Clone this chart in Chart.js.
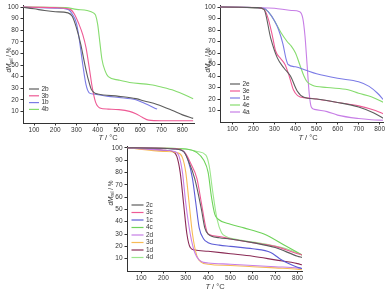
<!DOCTYPE html>
<html>
<head>
<meta charset="utf-8">
<script src="https://cdn.jsdelivr.net/npm/chart.js@4.4.1/dist/chart.umd.min.js"></script>
<style>
  html, body { margin: 0; padding: 0; background: #fff; }
  body { width: 388px; height: 292px; position: relative; overflow: hidden; }
  canvas { position: absolute; }
</style>
</head>
<body>
<canvas id="tgaB" style="left:0px;top:0px;width:200px;height:145px"></canvas>
<canvas id="tgaE" style="left:195px;top:0px;width:193px;height:145px"></canvas>
<canvas id="tgaC" style="left:95px;top:140px;width:215px;height:152px"></canvas>
<script>
// tick labels
const xTicks = [100, 200, 300, 400, 500, 600, 700, 800];
const yTicks = [10, 20, 30, 40, 50, 60, 70, 80, 90, 100];

// panel 1: [T / °C, mass %]
const s2b = [[40,100],[100,98.5],[150,97],[200,96],[260,95],[280,92],[300,82],[320,68],[340,50],[355,38],[370,29],[385,26],[400,25],[500,23],[580,21],[620,19],[680,16],[750,11],[800,7],[850,4]];
const s3b = [[40,100],[200,99.5],[270,98],[290,94],[310,86],[330,76],[345,65],[360,48],[375,30],[390,18],[410,13],[450,12],[500,11.5],[550,10],[580,8],[610,5],[640,2.5],[700,2],[850,2]];
const s1b = [[40,100],[200,99],[260,98],[280,94],[300,86],[315,70],[330,50],[345,33],[360,26],[380,25],[450,23],[500,22],[580,20],[620,17],[680,12]];
const s4b = [[40,100],[250,99.5],[300,98],[350,97],[380,95],[390,93],[400,85],[410,70],[420,55],[435,45],[450,40],[500,37],[550,35],[650,33],[700,31],[760,28],[850,21]];

// panel 2
const s2e = [[40,100],[220,99.5],[250,98],[282,73],[313,56],[345,47],[376,40],[408,27],[440,21.5],[500,20],[600,17],[700,13],[770,8],[820,3]];
const s3e = [[40,100],[220,99.5],[250,98],[270,90],[290,75],[305,62],[330,55],[350,50],[370,40],[390,28],[410,23],[450,21],[500,20],[600,17],[700,14],[780,10],[820,7]];
const s1e = [[40,100],[250,99],[270,96],[300,88],[320,80],[340,68],[355,55],[365,50],[400,48],[450,45],[500,42],[600,38],[700,35],[750,31],[790,25],[820,19]];
const s4e = [[40,100],[240,99],[270,96],[300,88],[330,78],[360,70],[380,66],[400,60],[420,50],[440,40],[455,35],[480,32],[550,30],[650,28],[700,25],[760,22],[820,17]];
const s4a = [[40,100],[200,99.5],[300,99],[380,97],[420,96],[435,90],[445,75],[455,50],[465,25],[475,13],[490,11],[550,9],[600,6],[700,3],[760,2],[820,1.5]];

// panel 3
const s2c = [[40,100],[250,99],[290,97],[310,90],[340,75],[370,50],[385,35],[400,30],[450,27],[500,26],[600,23],[700,19],[800,12],[820,11]];
const s3c = [[40,100],[270,99],[300,95],[320,88],[350,75],[370,55],[390,35],[400,30],[450,28],[500,26],[600,23],[700,20],[800,14],[820,13]];
const s1c = [[40,100],[250,99],[290,97],[310,90],[330,75],[345,55],[360,35],[380,26],[400,23],[450,21],[500,20],[600,18],[680,15],[720,10],[760,6],[800,3],[820,2]];
const s4c = [[40,100],[300,99],[350,96],[380,90],[400,80],[415,60],[430,46],[445,42],[500,38],[560,35],[650,30],[750,20],[820,13]];
const s2d = [[40,100],[200,98],[250,97],[270,93],[285,80],[300,55],[320,30],[340,15],[360,9],[380,7],[400,6.5],[500,5.5],[600,4.5],[700,3.5],[800,2.5],[820,2]];
const s3d = [[40,100],[200,97],[260,96],[285,92],[300,80],[315,55],[330,30],[350,12],[370,7],[400,5.5],[500,4.5],[600,3.5],[700,2.5],[800,1.5],[820,1]];
const s1d = [[40,100],[100,99.5],[200,98],[240,97],[260,93],[275,80],[290,55],[305,30],[320,19],[340,17],[400,16],[500,14],[600,12],[700,9],[800,6],[820,5]];
const s4d = [[40,100],[300,99],[350,97],[390,94],[405,85],[420,65],[440,42],[460,31],[480,28],[550,25],[650,22],[750,18],[820,13]];

const FONT = '"Liberation Sans", Arial, sans-serif';
const AXIS = '#333';

const decor = {
  id: 'decor',
  afterDraw(chart, args, o) {
    const ctx = chart.ctx;
    ctx.save();
    // legend inside the plot
    chart.data.datasets.forEach((ds, i) => {
      const y = o.legY + i * o.legStep;
      ctx.strokeStyle = ds.borderColor;
      ctx.lineWidth = 1.2;
      ctx.beginPath();
      ctx.moveTo(o.legX, y);
      ctx.lineTo(o.legX + o.legLen, y);
      ctx.stroke();
      ctx.fillStyle = AXIS;
      ctx.font = '6.5px ' + FONT;
      ctx.textBaseline = 'middle';
      ctx.textAlign = 'left';
      ctx.fillText(ds.label, o.legX + o.legLen + 2.5, y);
    });

    // x title: T / °C with italic T
    ctx.textBaseline = 'middle';
    ctx.textAlign = 'left';
    ctx.font = 'italic 7.5px ' + FONT;
    const tW = ctx.measureText('T').width;
    ctx.font = '7.5px ' + FONT;
    const rest = ' / \u00b0C';
    const rW = ctx.measureText(rest).width;
    let x0 = o.xtX - (tW + rW) / 2;
    ctx.font = 'italic 7.5px ' + FONT;
    ctx.fillText('T', x0, o.xtY);
    ctx.font = '7.5px ' + FONT;
    ctx.fillText(rest, x0 + tW, o.xtY);

    // y title: dM_rel / %
    ctx.translate(o.ytX, o.ytY);
    ctx.rotate(-Math.PI / 2);
    ctx.font = 'italic 6.5px ' + FONT;
    const a = 'dM';
    const aW = ctx.measureText(a).width;
    ctx.font = '4.5px ' + FONT;
    const sW = ctx.measureText('rel').width;
    ctx.font = '6.5px ' + FONT;
    const c = ' / %';
    const cW = ctx.measureText(c).width;
    let p = -(aW + sW + cW) / 2;
    ctx.font = 'italic 6.5px ' + FONT;
    ctx.fillText(a, p, 0);
    ctx.font = '4.5px ' + FONT;
    ctx.fillText('rel', p + aW, 2);
    ctx.font = '6.5px ' + FONT;
    ctx.fillText(c, p + aW + sW, 0);
    ctx.restore();
  }
};

function toPoints(arr) {
  return arr.map(p => ({ x: p[0], y: p[1] }));
}

function makeChart(id, series, opt) {
  new Chart(document.getElementById(id), {
    type: 'line',
    data: {
      datasets: series.map(s => ({
        label: s.label,
        data: toPoints(s.data),
        borderColor: s.color,
        borderWidth: 1.1,
        pointRadius: 0,
        fill: false,
        cubicInterpolationMode: 'monotone'
      }))
    },
    options: {
      responsive: false,
      animation: false,
      layout: { padding: { top: opt.padTop, right: opt.padRight, left: 0, bottom: 0 } },
      plugins: {
        legend: { display: false },
        tooltip: { enabled: false },
        decor: opt.decor
      },
      scales: {
        x: {
          type: 'linear',
          min: opt.xMin,
          max: opt.xMax,
          afterBuildTicks: scale => { scale.ticks = xTicks.map(v => ({ value: v })); },
          afterFit: scale => { scale.height = opt.xh; },
          ticks: { font: { size: 6.5, family: FONT }, color: AXIS, padding: 1, maxRotation: 0 },
          grid: { drawOnChartArea: false, drawTicks: true, tickLength: 2.5, color: AXIS },
          border: { display: true, color: AXIS, width: 1 }
        },
        y: {
          min: 0,
          max: 101,
          afterBuildTicks: scale => { scale.ticks = yTicks.map(v => ({ value: v })); },
          afterFit: scale => { scale.width = opt.yw; },
          ticks: { font: { size: 6.5, family: FONT }, color: AXIS, padding: 2 },
          grid: { drawOnChartArea: false, drawTicks: true, tickLength: 2.5, color: AXIS },
          border: { display: true, color: AXIS, width: 1 }
        }
      }
    },
    plugins: [decor]
  });
}

function setSize(id, w, h) {
  const c = document.getElementById(id);
  c.width = w; c.height = h;
}
setSize('tgaB', 200, 145);
setSize('tgaE', 193, 145);
setSize('tgaC', 215, 152);

const GRAY = '#5d5d5d', PINK = '#ee5a95', BLUE = '#7b7be6', GREEN = '#86dc6e',
      VIOLET = '#c77ee6', ORANGE = '#f7bb55', MAROON = '#8a2a55', LGREEN = '#9ce68c';

makeChart('tgaB', [
  { label: '2b', data: s2b, color: GRAY },
  { label: '3b', data: s3b, color: PINK },
  { label: '1b', data: s1b, color: BLUE },
  { label: '4b', data: s4b, color: GREEN }
], { xMin: 48, xMax: 854, padTop: 5, padRight: 6, xh: 22, yw: 23,
     decor: { legX: 29, legY: 89, legStep: 6.8, legLen: 10, xtX: 108, xtY: 138, ytX: 9.5, ytY: 60 } });

makeChart('tgaE', [
  { label: '2e', data: s2e, color: GRAY },
  { label: '3e', data: s3e, color: PINK },
  { label: '1e', data: s1e, color: BLUE },
  { label: '4e', data: s4e, color: GREEN },
  { label: '4a', data: s4a, color: VIOLET }
], { xMin: 41, xMax: 816, padTop: 5.5, padRight: 5, xh: 23, yw: 25,
     decor: { legX: 35, legY: 84, legStep: 7, legLen: 10, xtX: 113, xtY: 138, ytX: 13.5, ytY: 60 } });

makeChart('tgaC', [
  { label: '2c', data: s2c, color: GRAY },
  { label: '3c', data: s3c, color: PINK },
  { label: '1c', data: s1c, color: '#5c5cd6' },
  { label: '4c', data: s4c, color: '#6fd35a' },
  { label: '2d', data: s2d, color: VIOLET },
  { label: '3d', data: s3d, color: ORANGE },
  { label: '1d', data: s1d, color: MAROON },
  { label: '4d', data: s4d, color: LGREEN }
], { xMin: 37, xMax: 820, padTop: 6.5, padRight: 8, xh: 21, yw: 32,
     decor: { legX: 36.5, legY: 65, legStep: 7.5, legLen: 12, xtX: 120, xtY: 147, ytX: 16, ytY: 53 } });
</script>
</body>
</html>
